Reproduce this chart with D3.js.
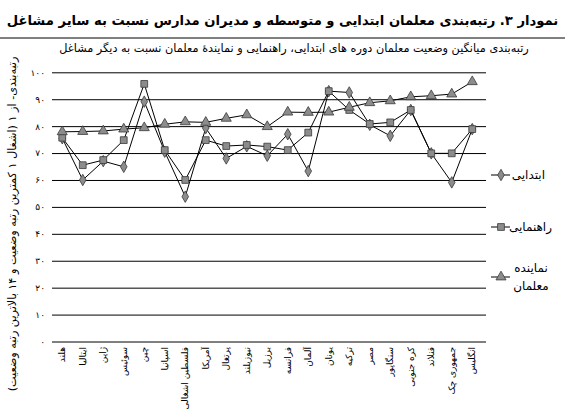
<!DOCTYPE html>
<html><head><meta charset="utf-8">
<script src="https://cdn.jsdelivr.net/npm/d3@7"></script>
<style>
html,body{margin:0;padding:0;background:#fff;}
svg{display:block;}
text{font-family:"DejaVu Sans",sans-serif;fill:#000;}
</style></head>
<body>
<script>
const categories = ["هلند","ایتالیا","ژاپن","سوئیس","چین","اسپانیا","فلسطین اشغالی","آمریکا","پرتغال","نیوزیلند","برزیل","فرانسه","آلمان","یونان","ترکیه","مصر","سنگاپور","کره جنوبی","فنلاند","جمهوری چک","انگلیس"];
const primary  = [75.5,60,67,64.9,89.1,70.5,53.8,79.3,68,72.5,69,77,63.3,93,92.5,80.5,76.4,86,69.9,59.1,78.9];
const guidance = [75.7,65.5,67.4,74.8,95.7,71.1,60,74.8,72.6,73,72.4,71.1,77.6,93,86,80.8,81.4,86,69.9,69.9,78.9];
const teacherRep = [77.9,78,78.2,78.9,79.4,80.7,81.6,81.4,82.9,84.2,79.8,85.2,85.1,85.2,87,88.7,89.4,90.9,91.3,91.9,96.5];
const yTicks = [0,10,20,30,40,50,60,70,80,90,100];
const seriesNames = ["ابتدایی","راهنمایی","نماینده معلمان"];
const titleText = "نمودار ۳. رتبه‌بندی معلمان ابتدایی و متوسطه و مدیران مدارس نسبت به سایر مشاغل";
const subtitleText = "رتبه‌بندی میانگین وضعیت معلمان دوره های ابتدایی، راهنمایی و نمایندهٔ معلمان نسبت به دیگر مشاغل";
const yTitleText = "رتبه‌بندی- از ۱ (اشغال ۱ کمترین رتبه وضعیت و ۱۴ بالاترین رتبه وضعیت)";

const W=565,H=414;
const fa = n => String(n).replace(/\d/g, d => "۰۱۲۳۴۵۶۷۸۹"[d]);
const svg = d3.select("body").append("svg").attr("width",W).attr("height",H);

function fit(sel, target, maxSize){
  let s = maxSize; sel.style("font-size", s+"px");
  let w = sel.node().getComputedTextLength();
  if (w > 0) { s = Math.min(maxSize, s*target/w); sel.style("font-size", s+"px"); }
}

// Title
const t = svg.append("text").attr("x",W/2).attr("y",25).attr("text-anchor","middle")
  .style("font-weight","bold").text(titleText);
fit(t, 552, 20);
svg.append("line").attr("x1",0).attr("x2",W).attr("y1",38).attr("y2",38).attr("stroke","#000").attr("stroke-width",1);
const st = svg.append("text").attr("x",294).attr("y",52).attr("text-anchor","middle").text(subtitleText);
fit(st, 470, 12);

// Y title
const yt = svg.append("text").attr("transform","translate(16,224) rotate(-90)").attr("text-anchor","middle").text(yTitleText);
fit(yt, 335, 12);

const x = d3.scalePoint().domain(categories).range([52,482.5]).padding(0.5);
const y = d3.scaleLinear().domain([0,100]).range([341.5,72.3]);

const yAxis = svg.append("g").attr("transform","translate(52,0)")
  .call(d3.axisLeft(y).tickValues(yTicks).tickSize(-434).tickPadding(7).tickFormat(fa));
yAxis.select(".domain").remove();
yAxis.selectAll(".tick line").attr("stroke","#000").attr("stroke-width",1);
yAxis.selectAll(".tick text").style("font-size","9px").style("font-family","DejaVu Sans");

// X labels
svg.append("g").selectAll("text").data(categories).join("text")
  .attr("transform", d => `translate(${x(d)+3},347) rotate(-90)`)
  .attr("text-anchor","end").style("font-size","9px").text(d=>d);

const fillC="#8c8c8c", strokeC="#3a3a3a";
const line = d3.line().x((d,i)=>x(categories[i])).y(d=>y(d));
const series = [
  {vals:primary, sym:d3.symbolDiamond, size:38},
  {vals:guidance, sym:d3.symbolSquare, size:46},
  {vals:teacherRep, sym:d3.symbolTriangle, size:44}
];
series.forEach(s=>{
  svg.append("path").datum(s.vals).attr("d",line).attr("fill","none").attr("stroke","#000").attr("stroke-width",1);
});
series.forEach(s=>{
  svg.append("g").selectAll("path").data(s.vals).join("path")
    .attr("transform",(d,i)=>`translate(${x(categories[i])},${y(d)})`)
    .attr("d", d3.symbol(s.sym, s.size)).attr("fill",fillC).attr("stroke",strokeC).attr("stroke-width",0.8);
});

// Legend
const leg = [{y:175, tx:545},{y:227, tx:552},{y:277, tx:null}];
series.forEach((s,i)=>{
  const g = svg.append("g");
  g.append("line").attr("x1",491).attr("x2",510).attr("y1",leg[i].y).attr("y2",leg[i].y).attr("stroke","#000");
  g.append("path").attr("transform",`translate(501,${leg[i].y})`).attr("d",d3.symbol(s.sym,s.size)).attr("fill",fillC).attr("stroke",strokeC).attr("stroke-width",0.8);
  if (i<2) {
    g.append("text").attr("x",leg[i].tx).attr("y",leg[i].y+4).attr("text-anchor","end").style("font-size","12px").text(seriesNames[i]);
  } else {
    const parts = seriesNames[i].split(" ");
    parts.forEach((p,j)=>g.append("text").attr("x",531).attr("y",leg[i].y-5+j*18).attr("text-anchor","middle").style("font-size","12px").text(p));
  }
});
</script>
</body></html>
